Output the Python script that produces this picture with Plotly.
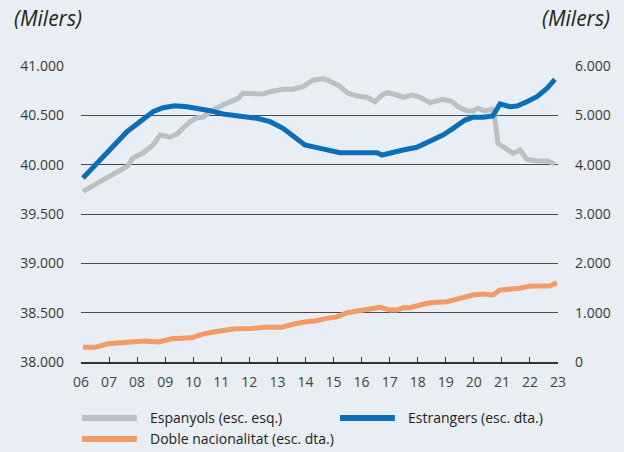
import plotly.graph_objects as go

# ---- data (decimal years, thousands of people) ----
years_esp = [2006.07, 2006.68, 2007.03, 2007.50, 2007.67, 2007.85, 2008.21, 2008.57, 2008.82, 2009.17,
             2009.42, 2009.88, 2010.13, 2010.35, 2010.70, 2011.06, 2011.42, 2011.60, 2011.77, 2012.13,
             2012.49, 2012.74, 2013.20, 2013.56, 2013.91, 2014.27, 2014.62, 2014.80, 2014.98, 2015.20,
             2015.52, 2015.84, 2016.19, 2016.48, 2016.73, 2016.94, 2017.26, 2017.48, 2017.80, 2018.08,
             2018.44, 2018.90, 2019.22, 2019.44, 2019.76, 2019.97, 2020.15, 2020.40, 2020.65, 2020.75,
             2020.86, 2021.18, 2021.40, 2021.65, 2021.89, 2022.25, 2022.61, 2022.89]
espanyols = [39730, 39827, 39885, 39963, 39987, 40068, 40118, 40200, 40300, 40280,
             40310, 40435, 40476, 40480, 40554, 40605, 40648, 40672, 40723, 40723,
             40716, 40740, 40764, 40764, 40790, 40858, 40870, 40855, 40831, 40800,
             40723, 40696, 40683, 40639, 40706, 40730, 40706, 40683, 40706, 40683,
             40628, 40662, 40639, 40588, 40544, 40544, 40571, 40544, 40561, 40470,
             40217, 40156, 40115, 40149, 40054, 40037, 40037, 40007]

years_est = [2006.07, 2006.68, 2007.14, 2007.64, 2008.10, 2008.57, 2008.92, 2009.35, 2009.78, 2010.13,
             2010.60, 2011.06, 2011.77, 2012.27, 2012.74, 2013.20, 2013.56, 2013.98, 2014.45, 2014.87,
             2015.23, 2015.69, 2016.19, 2016.55, 2016.73, 2017.01, 2017.48, 2017.97, 2018.44, 2018.90,
             2019.26, 2019.69, 2019.97, 2020.33, 2020.68, 2020.93, 2021.29, 2021.54, 2021.89, 2022.25,
             2022.61, 2022.89]
estrangers = [3730, 4087, 4364, 4668, 4871, 5074, 5155, 5195, 5175, 5142,
              5094, 5027, 4986, 4940, 4871, 4737, 4581, 4399, 4340, 4290,
              4243, 4243, 4229, 4243, 4196, 4243, 4297, 4352, 4466, 4601,
              4737, 4905, 4960, 4960, 4986, 5230, 5175, 5189, 5277, 5378,
              5548, 5730]

years_dob = [2006.07, 2006.50, 2006.97, 2007.45, 2007.86, 2008.28, 2008.76, 2009.23, 2009.94, 2010.36,
             2010.89, 2011.49, 2012.08, 2012.56, 2013.15, 2013.62, 2014.10, 2014.34, 2014.70, 2015.12,
             2015.48, 2015.84, 2016.05, 2016.66, 2017.01, 2017.26, 2017.48, 2017.72, 2018.08, 2018.44,
             2019.04, 2019.51, 2019.97, 2020.33, 2020.68, 2020.93, 2021.29, 2021.65, 2022.00, 2022.61,
             2022.71, 2022.96]
doble = [300, 300, 370, 390, 390, 425, 405, 470, 490, 570,
         625, 675, 680, 705, 705, 775, 820, 830, 880, 915,
         999, 1040, 1040, 1108, 1054, 1054, 1101, 1101, 1155, 1202,
         1222, 1291, 1358, 1378, 1358, 1459, 1473, 1494, 1540, 1561,
         1540, 1607]

x_tick_vals = list(range(2006, 2024))
x_tick_text = ["06", "07", "08", "09", "10", "11", "12", "13", "14", "15",
               "16", "17", "18", "19", "20", "21", "22", "23"]
left_vals = [38000, 38500, 39000, 39500, 40000, 40500, 41000]
left_text = ["38.000", "38.500", "39.000", "39.500", "40.000", "40.500", "41.000"]
right_vals = [0, 1000, 2000, 3000, 4000, 5000, 6000]
right_text = ["0", "1.000", "2.000", "3.000", "4.000", "5.000", "6.000"]

names = ["Espanyols (esc. esq.)", "Estrangers (esc. dta.)", "Doble nacionalitat (esc. dta.)"]

BG = "#e8eef3"
GREY = "#b9c1c3"
BLUE = "#0a6fb8"
ORANGE = "#f39a69"
FONT = "Open Sans"

fig = go.Figure()
fig.add_trace(go.Scatter(x=years_esp, y=espanyols, mode="lines", name=names[0],
                         line=dict(color=GREY, width=5), yaxis="y", showlegend=False))
fig.add_trace(go.Scatter(x=years_dob, y=doble, mode="lines", name=names[2],
                         line=dict(color=ORANGE, width=5), yaxis="y2", showlegend=False))
fig.add_trace(go.Scatter(x=years_est, y=estrangers, mode="lines", name=names[1],
                         line=dict(color=BLUE, width=5), yaxis="y2", showlegend=False))

fig.update_layout(
    width=624, height=452,
    margin=dict(l=81, r=66, t=66, b=90),
    paper_bgcolor=BG, plot_bgcolor=BG,
    font=dict(family=FONT, size=14, color="#333333"),
    xaxis=dict(range=[2006, 2023], tickvals=x_tick_vals, ticktext=x_tick_text,
               showgrid=False, zeroline=False, showline=True, linecolor="#333333", linewidth=1.5,
               ticks="inside", ticklen=5, tickwidth=1.2, tickcolor="#333333",
               tickfont=dict(size=14, color="#444444"), ticklabelstandoff=6),
    yaxis=dict(range=[38000, 41000], tickvals=left_vals, ticktext=left_text,
               showgrid=True, gridcolor="#4a4a4a", gridwidth=1, zeroline=False,
               ticks="", ticklabelstandoff=16, tickfont=dict(size=14, color="#3a3a3a")),
    yaxis2=dict(range=[0, 6000], tickvals=right_vals, ticktext=right_text, overlaying="y",
                side="right", showgrid=False, zeroline=False, ticks="",
                ticklabelstandoff=16, tickfont=dict(size=14, color="#3a3a3a")),
)

# "(Milers)" unit labels
fig.add_annotation(text="<i>(Milers)</i>", xref="paper", yref="paper", x=-0.145, y=1.162,
                   xanchor="left", yanchor="middle", showarrow=False,
                   font=dict(size=21, color="#222222", family=FONT))
fig.add_annotation(text="<i>(Milers)</i>", xref="paper", yref="paper", x=1.113, y=1.162,
                   xanchor="right", yanchor="middle", showarrow=False,
                   font=dict(size=21, color="#222222", family=FONT))

# manual legend
legend_items = [(names[0], GREY, 0.002, -0.189), (names[1], BLUE, 0.543, -0.189),
                (names[2], ORANGE, 0.002, -0.260)]
for label, color, lx, ly in legend_items:
    fig.add_shape(type="line", xref="paper", yref="paper", x0=lx, x1=lx + 0.115, y0=ly, y1=ly,
                  line=dict(color=color, width=6))
    fig.add_annotation(text=label, xref="paper", yref="paper", x=lx + 0.138, y=ly,
                       xanchor="left", yanchor="middle", showarrow=False,
                       font=dict(size=14, color="#222222", family=FONT))

fig.write_html("out.html", config={"displayModeBar": False},
               post_script="document.body.style.margin='0';document.body.style.overflow='hidden';")
